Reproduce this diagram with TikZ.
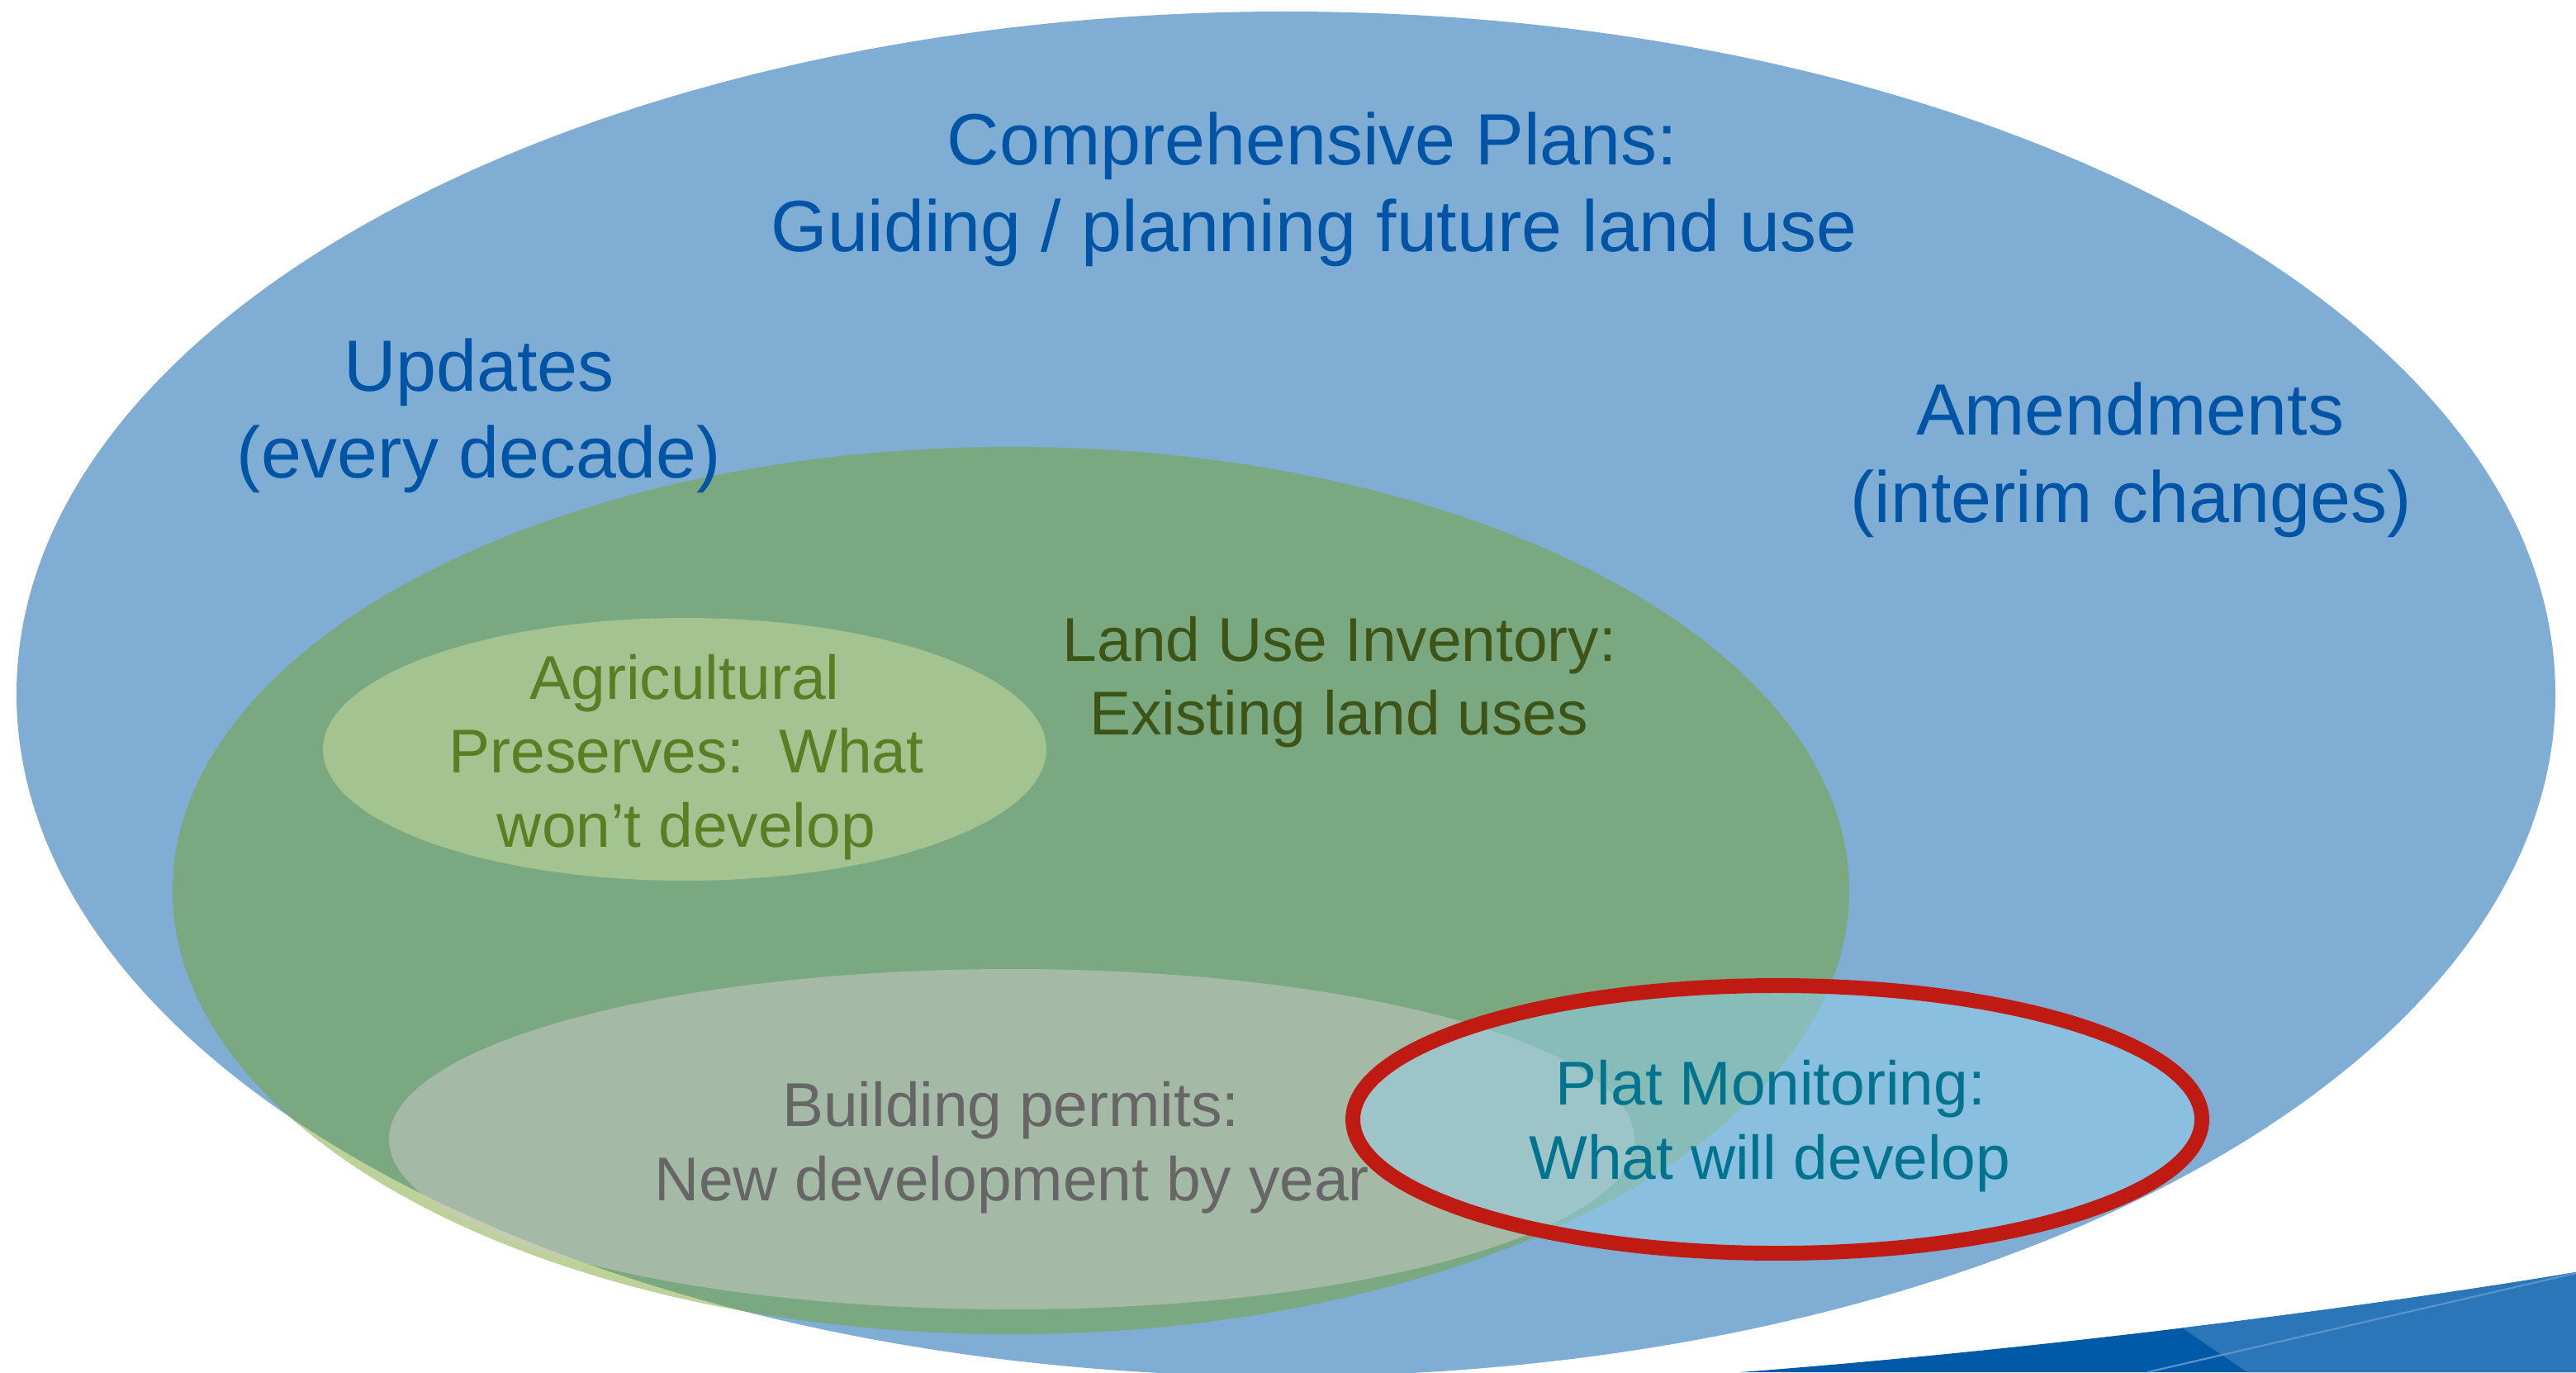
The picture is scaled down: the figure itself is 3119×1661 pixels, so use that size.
\documentclass[tikz,border=0pt]{standalone}
\usepackage{fontspec}
\setmainfont{Liberation Sans}
\frenchspacing
\definecolor{bigblue}{HTML}{7FADD4}
\definecolor{greenfill}{HTML}{73A328}
\definecolor{agfill}{HTML}{A3C491}
\definecolor{bpfill}{HTML}{CFCACB}
\definecolor{plfill}{HTML}{96CFE9}
\definecolor{redline}{HTML}{BF1B12}
\definecolor{cpblue}{HTML}{0054A6}
\definecolor{lutext}{HTML}{3E5417}
\definecolor{agtext}{HTML}{5A7E23}
\definecolor{bptext}{HTML}{666666}
\definecolor{pmtext}{HTML}{00748F}
\definecolor{swdark}{HTML}{005AA8}
\definecolor{swlight}{HTML}{2A76B8}
\definecolor{swline}{HTML}{5A95CC}
\tikzset{
  lbl/.style={anchor=base, inner sep=0pt, outer sep=0pt},
  bigtxt/.style={lbl, font=\fontsize{25}{30}\selectfont, text=cpblue},
  midtxt/.style={lbl, font=\fontsize{21.3}{25}\selectfont},
}
\begin{document}
\begin{tikzpicture}[x=0.01cm,y=-0.01cm]
\useasboundingbox (0,0) rectangle (3119,1661);
\fill[white] (0,0) rectangle (3119,1661);
% big blue ellipse
\fill[bigblue] (1557,840) ellipse [x radius=1537, y radius=826];
% green land use ellipse (translucent)
\fill[greenfill, fill opacity=0.48] (1224,1078) ellipse [x radius=1015, y radius=537];
% agricultural preserves
\fill[agfill] (829,907) ellipse [x radius=438, y radius=159];
% building permits (translucent)
\fill[bpfill, fill opacity=0.5] (1225,1379) ellipse [x radius=754, y radius=206];
% plat monitoring
\fill[plfill, fill opacity=0.53] (2152,1355) ellipse [x radius=514, y radius=162];
\draw[redline, line width=5.1pt] (2152,1355) ellipse [x radius=514, y radius=162];
% swoosh bottom right
\fill[swdark] (2107,1661) .. controls (2450,1635) and (2850,1585) .. (3119,1540) -- (3119,1661) -- cycle;
\begin{scope}
\clip (2107,1661) .. controls (2450,1635) and (2850,1585) .. (3119,1540) -- (3119,1661) -- cycle;
\fill[swlight] (2484,1500) -- (2721,1661) -- (3119,1661) -- (3119,1500) -- cycle;
\draw[swline, line width=0.6pt] (2600,1661) -- (3119,1541);
\end{scope}
% texts
\node[bigtxt] (cp1) at (1589,200) {Comprehensive Plans:};
\node[bigtxt] (cp2) at (1591,305) {Guiding / planning future land use};
\node[bigtxt] (up1) at (580,473) {Updates};
\node[bigtxt] (up2) at (580,578) {(every decade)};
\node[bigtxt] (am1) at (2579,526) {Amendments};
\node[bigtxt] (am2) at (2580,632) {(interim changes)};
\node[midtxt, text=lutext] (lu1) at (1622,800) {Land Use Inventory:};
\node[midtxt, text=lutext] (lu2) at (1621,889) {Existing land uses};
\node[midtxt, text=agtext] (ag1) at (829,846) {Agricultural};
\node[midtxt, text=agtext] (ag2) at (831,935) {Preserves:\ \ What};
\node[midtxt, text=agtext] (ag3) at (831,1025) {won’t develop};
\node[midtxt, text=bptext] (bp1) at (1224,1363) {Building permits:};
\node[midtxt, text=bptext] (bp2) at (1225,1453) {New development by year};
\node[midtxt, text=pmtext] (pm1) at (2144,1337) {Plat Monitoring:};
\node[midtxt, text=pmtext] (pm2) at (2143,1427) {What will develop};
\end{tikzpicture}
\end{document}
